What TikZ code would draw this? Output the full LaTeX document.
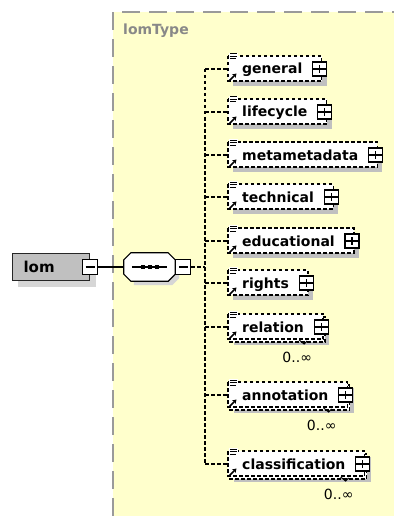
\documentclass[tikz,border=0pt]{standalone}
\usepackage{fontspec}
\setmainfont{DejaVu Sans}
\usetikzlibrary{calc,arrows.meta}

\definecolor{paneyellow}{HTML}{FFFFCC}
\definecolor{panegray}{HTML}{9A9A9A}
\definecolor{shadowgray}{HTML}{C0C0C0}
\definecolor{lomfill}{HTML}{C0C0C0}
\definecolor{lomshade}{HTML}{D6D6D6}
\definecolor{titlegray}{HTML}{888888}

\pgfdeclarelayer{pane}
\pgfdeclarelayer{shade}
\pgfdeclarelayer{boxes}
\pgfsetlayers{pane,shade,boxes,main}

\tikzset{
  treeline/.style={line width=1.3pt, dash pattern=on 3.5pt off 2.5pt},
  solidline/.style={line width=1.2pt},
  paneedge/.style={draw=panegray, line width=1.5pt, dash pattern=on 18pt off 9pt},
  panetitle/.style={font=\bfseries\fontsize{14}{16}\selectfont, text=titlegray, inner sep=0pt, anchor=base west},
  elabel/.style={font=\bfseries\fontsize{14}{16}\selectfont, inner sep=0pt, anchor=base west},
  mult/.style={font=\fontsize{14}{16}\selectfont, inner sep=0pt, anchor=east},
  ebox/.style={draw, fill=white, line width=1.3pt, dash pattern=on 3.5pt off 2.5pt},
  togglebox/.style={draw, fill=white, line width=1.1pt, minimum size=14pt, inner sep=0pt},
  plusbox/.style={togglebox, path picture={
      \draw[line width=1.2pt, shorten <=3pt, shorten >=3pt]
        (path picture bounding box.west) -- (path picture bounding box.east)
        (path picture bounding box.north) -- (path picture bounding box.south);}},
  minusbox/.style={togglebox, minimum size=15pt, path picture={
      \draw[line width=1.2pt, shorten <=3pt, shorten >=3pt]
        (path picture bounding box.west) -- (path picture bounding box.east);}},
  lombox/.style={draw=black!85, fill=lomfill, line width=1.2pt, minimum width=77pt,
      minimum height=27pt, text width=55pt, inner xsep=11pt, align=left,
      font=\bfseries\fontsize{15}{16}\selectfont},
}

% nodes and coordinates of one child element on row #2
\newcommand\xsdplace[3]{%
  \coordinate (#1-j) at (205,#2);
  \coordinate (#1-in) at (228,#2);
  \node[elabel] (#1) at (242,{#2+5}) {#3};
  \node[plusbox] (#1-x) at ($(#1.east |- #1-in)+(17,0)$) {};
  \coordinate (#1-nw) at (228,{#2-13});
  \coordinate (#1-se) at ($(#1-x.center)+(2,12)$);
}

% reference mark and content mark in the box corners
\newcommand\xsdicons[2]{%
  \fill[white] (229,{#2-16}) rectangle (238,{#2-9});
  \draw[line width=1pt] (230,{#2-15}) -- (237,{#2-15})
                        (230,{#2-12.5}) -- (237,{#2-12.5})
                        (230,{#2-10}) -- (236,{#2-10});
  \draw[line width=1.6pt, -{Stealth[length=4pt,width=5pt]}]
       (229.5,{#2+11.5}) -- (236.5,{#2+4.5});
}

% element that occurs once
\newcommand\xsdsingle[3]{%
  \xsdplace{#1}{#2}{#3}%
  \begin{pgfonlayer}{shade}
    \fill[shadowgray] ($(#1-nw)+(5,5)$) rectangle ($(#1-se)+(5,5)$);
  \end{pgfonlayer}
  \begin{pgfonlayer}{boxes}
    \draw[ebox] (#1-nw) rectangle (#1-se);
  \end{pgfonlayer}
  \xsdicons{#1}{#2}%
  \draw[treeline] (#1-j) -- (#1-in);
}

% element that repeats (0..unbounded)
\newcommand\xsdmulti[3]{%
  \xsdplace{#1}{#2}{#3}%
  \begin{pgfonlayer}{shade}
    \fill[shadowgray] ($(#1-nw)+(6,6)$) rectangle ($(#1-se)+(6,6)$);
  \end{pgfonlayer}
  \begin{pgfonlayer}{boxes}
    \draw[ebox] ($(#1-nw)+(2,3)$) rectangle ($(#1-se)+(2,3)$);
    \draw[ebox] (#1-nw) rectangle (#1-se);
  \end{pgfonlayer}
  \draw[line width=1pt] ($(#1-se)+(-24,1)$) -- ++(5,4) -- ++(3,-3);
  \xsdicons{#1}{#2}%
  \node[mult] (#1-m) at ($(#1-se)+(-11,18)$) {0..∞};
  \draw[treeline] (#1-j) -- (#1-in);
}

\begin{document}
\begin{tikzpicture}[x=1pt,y=-1pt]
\useasboundingbox (0,0) rectangle (394,516);

% complex type pane
\begin{pgfonlayer}{pane}
  \fill[white] (0,0) rectangle (394,516);
  \fill[paneyellow] (113,12) rectangle (394,516);
  \draw[paneedge] (113,516) -- (113,12) -- (394,12);
\end{pgfonlayer}
\node[panetitle] (ttl) at (123,35) {lomType};

% root element
\node[lombox, anchor=west] (lom) at (12,267) {lom};
\begin{pgfonlayer}{shade}
  \fill[lomshade] ($(lom.north west)+(6,6)$) rectangle ($(lom.south east)+(6,6)$);
\end{pgfonlayer}
\node[minusbox] (lom-x) at (lom.east) {};

% sequence compositor
\node[minimum width=51pt, minimum height=28pt, inner sep=0pt] (seq) at (149.5,267) {};
\begin{pgfonlayer}{shade}
  \fill[lomshade] ($(seq.north west)+(10,4)$) -- ($(seq.north east)+(-3,4)$)
    -- ($(seq.north east)+(4,11)$) -- ($(seq.south east)+(4,-3)$)
    -- ($(seq.south east)+(-3,4)$) -- ($(seq.south west)+(10,4)$) -- cycle;
\end{pgfonlayer}
\draw[fill=white, line width=1.2pt]
  ($(seq.north west)+(7,0)$) -- ($(seq.north east)+(-7,0)$)
  -- ($(seq.north east)+(0,7)$) -- ($(seq.south east)+(0,-7)$)
  -- ($(seq.south east)+(-7,0)$) -- ($(seq.south west)+(7,0)$)
  -- ($(seq.south west)+(0,-7)$) -- ($(seq.north west)+(0,7)$) -- cycle;
\draw[solidline] ($(seq.west)+(8,0)$) -- ($(seq.east)+(-8,0)$);
\foreach \dx in {-7,0,7}
  \fill ($(seq.center)+(\dx,0)+(-2,-2)$) rectangle ++(4,4);
\node[minusbox, anchor=west] (seq-x) at (seq.east) {};
\draw[solidline] (lom-x) -- (seq);

% child elements
\xsdsingle{general}{69}{general}
\xsdsingle{lifecycle}{112}{lifecycle}
\xsdsingle{metametadata}{155}{metametadata}
\xsdsingle{technical}{197}{technical}
\xsdsingle{educational}{241}{educational}
\xsdsingle{rights}{283}{rights}
\xsdmulti{relation}{327}{relation}
\xsdmulti{annotation}{395}{annotation}
\xsdmulti{classification}{464}{classification}

% tree connectors
\draw[treeline] (general-j) -- (classification-j);
\draw[treeline] (seq-x.east) -- (seq-x.east -| general-j);
\end{tikzpicture}
\end{document}
